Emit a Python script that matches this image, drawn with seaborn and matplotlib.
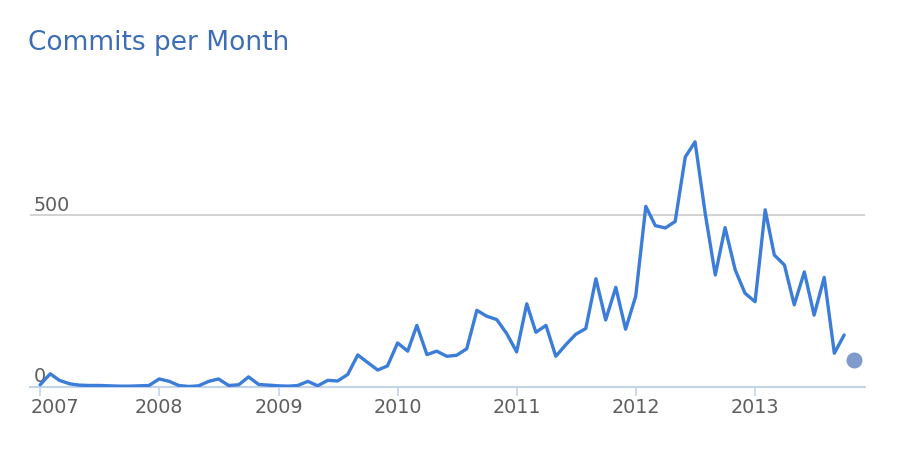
import matplotlib
matplotlib.use("Agg")
import matplotlib.pyplot as plt
import matplotlib.transforms as mtransforms
import seaborn as sns
import pandas as pd

# ---- data ----
start_month = "2007-01"
n_months = 82
commits = [
    5, 37, 18, 8, 4, 3, 3, 2, 1, 1, 2, 3,            # 2007
    22, 15, 3, 0, 2, 15, 22, 3, 5, 28, 6, 4,         # 2008
    2, 1, 3, 15, 2, 18, 16, 35, 92, 70, 48, 60,      # 2009
    127, 103, 178, 93, 103, 88, 91, 110, 222, 205, 195, 155,  # 2010
    101, 241, 158, 178, 88, 122, 152, 169, 314, 194, 289, 167,  # 2011
    263, 525, 469, 462, 481, 669, 713, 505, 325, 463, 340, 272,  # 2012
    247, 515, 383, 354, 238, 334, 208, 318, 97, 150,  # 2013
]
partial_month = "2013-11"
partial_value = 77
year_ticks = ["2007", "2008", "2009", "2010", "2011", "2012", "2013"]
y_ticks = [0, 500]
title = "Commits per Month"

months = pd.date_range(start=start_month, periods=n_months, freq="MS")
df = pd.DataFrame({"month": months, "commits": commits})

sns.set_theme(style="white")
plt.rcParams["font.family"] = ["DejaVu Sans"]

fig = plt.figure(figsize=(9, 4.63), dpi=100)
ax = fig.add_axes([30 / 900, 1 - 386.5 / 463, 835 / 900, (386.5 - 112) / 463])

line_color = "#3b7dd8"
sns.lineplot(data=df, x="month", y="commits", ax=ax, color=line_color,
             linewidth=2.4, zorder=3)
ax.plot([pd.Timestamp(partial_month)], [partial_value], "o", color="#7f9acb",
        markersize=10.5, zorder=4, clip_on=False)

ax.set_xlim(pd.Timestamp("2006-12-01"), pd.Timestamp("2013-12-04"))
ax.set_ylim(0, 800)

# gridline at 500
ax.axhline(500, color="#c6c6c6", linewidth=1.1, zorder=1)

for s in ["top", "right", "left"]:
    ax.spines[s].set_visible(False)
ax.spines["bottom"].set_color("#c3d3ea")
ax.spines["bottom"].set_linewidth(1.5)
ax.spines["bottom"].set_zorder(2)

ax.set_yticks([])
ax.set_xlabel("")
ax.set_ylabel("")

tick_pos = [pd.Timestamp(y + "-01-01") for y in year_ticks]
ax.set_xticks(tick_pos)
ax.set_xticklabels(year_ticks)
ax.tick_params(axis="x", direction="out", length=6.5, width=1.2,
               color="#c3d3ea", labelcolor="#5e5e5e", labelsize=13.8, pad=2,
               bottom=True)
# first label shifted to stay inside (as in original)
lbl0 = ax.get_xticklabels()[0]
lbl0.set_horizontalalignment("left")
lbl0.set_transform(lbl0.get_transform() +
                   mtransforms.ScaledTranslation(-9 / 100, 0, fig.dpi_scale_trans))

# y labels inside plot, above their lines
ytrans = mtransforms.blended_transform_factory(ax.transAxes, ax.transData)
for v in y_ticks:
    ax.text(0.004, v, str(v),
            transform=ytrans + mtransforms.ScaledTranslation(0, 4 / 100, fig.dpi_scale_trans),
            ha="left", va="baseline", fontsize=13.8, color="#5e5e5e", zorder=2)

fig.text(28 / 900, 1 - 50 / 463, title, ha="left", va="baseline",
         fontsize=19, color="#3d6db5")

fig.savefig("out.png", dpi=100, facecolor="white")
